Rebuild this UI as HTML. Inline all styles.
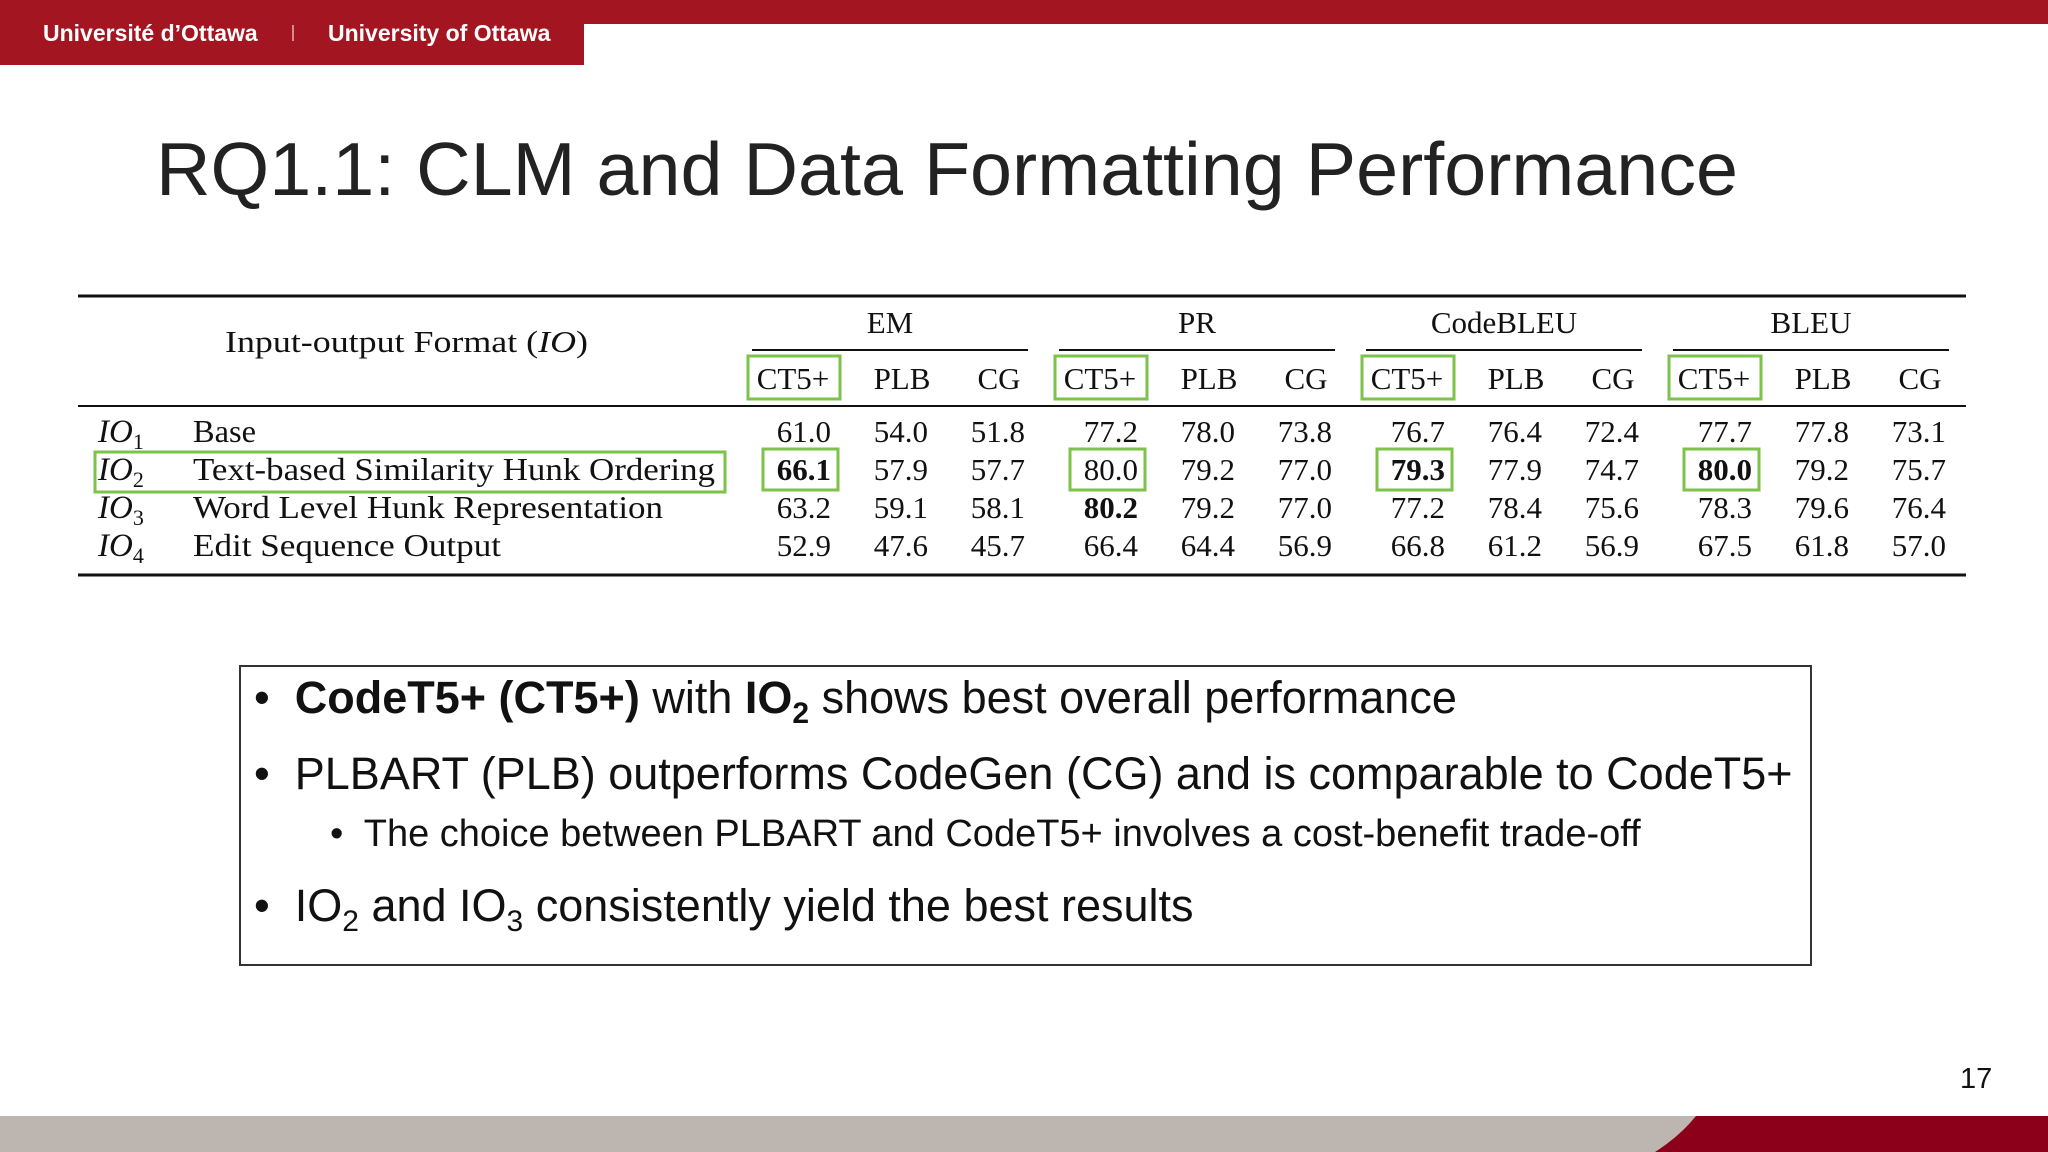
<!DOCTYPE html>
<html><head><meta charset="utf-8">
<style>
html,body{margin:0;padding:0;background:#fff;}
#slide{position:relative;width:2048px;height:1152px;overflow:hidden;background:#fff;font-family:"Liberation Sans",sans-serif;}
.abs{position:absolute;}
</style></head>
<body>
<div id="slide">
  <div class="abs" style="left:0;top:0;width:2048px;height:24px;background:#a31621;"></div>
  <div class="abs" style="left:0;top:0;width:584px;height:65px;background:#a31621;"></div>
  <div class="abs" style="left:43px;top:20px;color:#fff;font-size:23px;font-weight:bold;">Université d’Ottawa</div>
  <div class="abs" style="left:292px;top:25px;width:2px;height:16px;background:#d88;"></div>
  <div class="abs" style="left:328px;top:20px;color:#fff;font-size:23px;font-weight:bold;">University of Ottawa</div>

  <div class="abs" style="left:156px;top:126px;font-size:75.5px;color:#222;white-space:nowrap;">RQ1.1: CLM and Data Formatting Performance</div>

  <svg class="abs" id="table" style="left:0;top:0" width="2048" height="600"></svg>

  <div class="abs" style="left:239px;top:665px;width:1569px;height:297px;border:2px solid #333;"></div>
  <div class="abs" style="left:254px;top:672px;font-size:45px;color:#111;white-space:nowrap;">•&nbsp; <b>CodeT5+ (CT5+)</b> with <b>IO<sub style="font-size:30px">2</sub></b> shows best overall performance</div>
  <div class="abs" style="left:254px;top:748px;font-size:45px;color:#111;white-space:nowrap;">•&nbsp; PLBART (PLB) outperforms CodeGen (CG) and is comparable to CodeT5+</div>
  <div class="abs" style="left:330px;top:813px;font-size:38px;color:#111;white-space:nowrap;">•&nbsp; The choice between PLBART and CodeT5+ involves a cost-benefit trade-off</div>
  <div class="abs" style="left:254px;top:880px;font-size:45px;color:#111;white-space:nowrap;">•&nbsp; IO<sub style="font-size:30px">2</sub> and IO<sub style="font-size:30px">3</sub> consistently yield the best results</div>

  <div class="abs" style="left:1960px;top:1063px;font-size:29px;color:#111;">17</div>

  <svg class="abs" style="left:0;top:1116px" width="2048" height="36">
    <rect x="0" y="0" width="2048" height="36" fill="#bdb6b0"/>
    <path d="M1696,0 L2048,0 L2048,36 L1655,36 Q1680,20 1696,0 Z" fill="#8c0019"/>
  </svg>
</div>
<script>
const groups = ["EM","PR","CodeBLEU","BLEU"];
const models = ["CT5+","PLB","CG"];
const rowIds = ["1","2","3","4"];
const rowNames = ["Base","Text-based Similarity Hunk Ordering","Word Level Hunk Representation","Edit Sequence Output"];
const vals = [
 [61.0,54.0,51.8, 77.2,78.0,73.8, 76.7,76.4,72.4, 77.7,77.8,73.1],
 [66.1,57.9,57.7, 80.0,79.2,77.0, 79.3,77.9,74.7, 80.0,79.2,75.7],
 [63.2,59.1,58.1, 80.2,79.2,77.0, 77.2,78.4,75.6, 78.3,79.6,76.4],
 [52.9,47.6,45.7, 66.4,64.4,56.9, 66.8,61.2,56.9, 67.5,61.8,57.0]
];
const boldCells = [[1,0],[1,6],[1,9],[2,3]];
const boxedCells = [[1,0],[1,3],[1,6],[1,9]];

const svg = document.getElementById('table');
const NS = "http://www.w3.org/2000/svg";
const F = '"Liberation Serif", serif';
const groupX0 = 752, groupW = 307, colW = 97;
const nameLens = [63,522,470,308];
function colRight(g,m){return groupX0 + g*groupW + 79 + m*colW;}
function colCenter(g,m){return colRight(g,m) - 34;}
function rowY(r){return 442 + r*38;}
function el(tag, attrs, text){
  const e = document.createElementNS(NS, tag);
  for (const k in attrs) e.setAttribute(k, attrs[k]);
  if (text !== undefined) e.textContent = text;
  svg.appendChild(e); return e;
}
function line(x1,y1,x2,y2,w,name){
  const l = el('line',{x1:x1,y1:y1,x2:x2,y2:y2,stroke:'#111','stroke-width':w});
  
  
}
line(78,296,1966,296,3,'top-rule');
line(78,406,1966,406,2,'mid-rule');
line(78,575,1966,575,3,'bottom-rule');
const hdr = el('text',{x:225,y:352,'font-family':F,'font-size':31,fill:'#111',textLength:363,lengthAdjust:'spacingAndGlyphs'});


hdr.innerHTML = 'Input-output Format (<tspan font-style="italic">IO</tspan>)';
groups.forEach((g,gi)=>{
  const x0 = groupX0 + gi*groupW;
  const t = el('text',{x:x0+138,y:333,'font-family':F,'font-size':31,'text-anchor':'middle',fill:'#111'},g);
  
  
  line(x0,350,x0+276,350,2,'group-rule-'+g.toLowerCase());
  models.forEach((m,mi)=>{
    const s = el('text',{x:colCenter(gi,mi)+(mi==0?-4:8),y:389,'font-family':F,'font-size':31,'text-anchor':'middle',fill:'#111'},m);
    
    
  });
  const b = el('rect',{x:x0-4,y:356,width:92,height:43,fill:'none',stroke:'#7dc24b','stroke-width':3});
  
  
});
const rb = el('rect',{x:95,y:452,width:630,height:40,fill:'none',stroke:'#7dc24b','stroke-width':3});


rowIds.forEach((id,r)=>{
  const y = rowY(r);
  const t = el('text',{x:98,y:y,'font-family':F,'font-size':33,fill:'#111'});
  
  
  t.innerHTML = '<tspan font-style="italic">IO</tspan><tspan font-size="22" dy="7">'+id+'</tspan>';
  const n = el('text',{x:193,y:y,'font-family':F,'font-size':32,fill:'#111',textLength:nameLens[r],lengthAdjust:'spacingAndGlyphs'},rowNames[r]);
  
  
  vals[r].forEach((v,c)=>{
    const g = Math.floor(c/3), m = c%3;
    const bold = boldCells.some(b=>b[0]==r&&b[1]==c);
    const tv = el('text',{x:colRight(g,m),y:y,'font-family':F,'font-size':31,'text-anchor':'end',fill:'#111','font-weight':bold?'bold':'normal'},v.toFixed(1));
    
    
  });
});
boxedCells.forEach(bc=>{
  const g = Math.floor(bc[1]/3), m = bc[1]%3;
  const bx = el('rect',{x:colRight(g,m)-68,y:rowY(bc[0])-31,width:75,height:41,fill:'none',stroke:'#7dc24b','stroke-width':3});
  
  
});
</script>
</body></html>
